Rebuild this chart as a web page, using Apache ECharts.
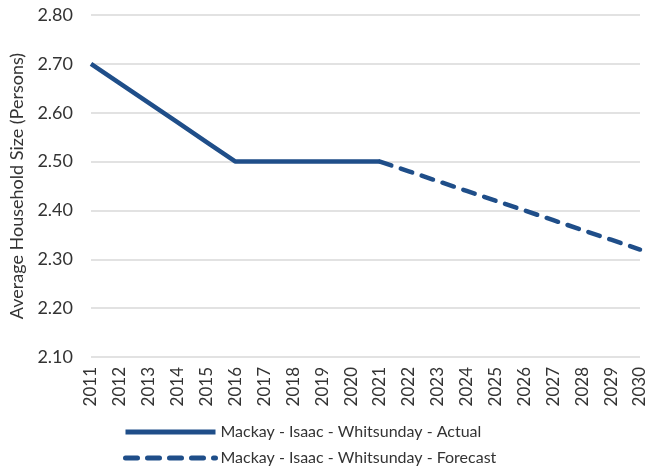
<!DOCTYPE html>
<html>
<head>
<meta charset="utf-8">
<script src="https://cdn.jsdelivr.net/npm/echarts@6/dist/echarts.min.js"></script>
<style>
  html, body { margin: 0; padding: 0; background: #fff; }
  #chart { width: 665px; height: 473px; }
</style>
</head>
<body>
<div id="chart"></div>
<script>
const years = ['2011', '2012', '2013', '2014', '2015', '2016', '2017', '2018', '2019', '2020',
  '2021', '2022', '2023', '2024', '2025', '2026', '2027', '2028', '2029', '2030']
const actual = [2.70, 2.66, 2.62, 2.58, 2.54, 2.50, 2.50, 2.50, 2.50, 2.50, 2.50,
  null, null, null, null, null, null, null, null, null]
const forecast = [null, null, null, null, null, null, null, null, null, null,
  2.50, 2.48, 2.46, 2.44, 2.42, 2.40, 2.38, 2.36, 2.34, 2.32]

const blue = '#1f4e89'
const font = 'Lato, "Liberation Sans", sans-serif'

const chart = echarts.init(document.getElementById('chart'))
chart.setOption({
  animation: false,
  textStyle: { fontFamily: font },
  grid: {
    left: 91,
    right: 25,
    top: 15,
    bottom: 116
  },
  legend: {
    orient: 'vertical',
    left: 123,
    top: 424,
    padding: 0,
    itemWidth: 90,
    itemHeight: 14,
    itemGap: 10,
    itemStyle: { opacity: 0 },
    lineStyle: { width: 5 },
    textStyle: { fontSize: 16, color: '#333', fontFamily: font },
    data: ['Mackay - Isaac - Whitsunday - Actual', 'Mackay - Isaac - Whitsunday - Forecast']
  },
  xAxis: {
    type: 'category',
    data: years,
    boundaryGap: false,
    axisLine: { show: false },
    axisTick: { show: false },
    axisLabel: {
      rotate: 90,
      margin: 10,
      fontSize: 17,
      color: '#333',
      interval: 0
    }
  },
  yAxis: {
    type: 'value',
    min: 2.1,
    max: 2.8,
    interval: 0.1,
    name: 'Average Household Size (Persons)',
    nameLocation: 'middle',
    nameGap: 60,
    nameTextStyle: { fontSize: 18, color: '#333' },
    axisLabel: {
      margin: 18,
      fontSize: 18,
      color: '#333',
      formatter: v => v.toFixed(2)
    },
    splitLine: { lineStyle: { color: '#d9d9d9', width: 1.5 } }
  },
  series: [
    {
      name: 'Mackay - Isaac - Whitsunday - Actual',
      type: 'line',
      data: actual,
      symbol: 'none',
      lineStyle: { color: blue, width: 4.5 },
      itemStyle: { color: blue }
    },
    {
      name: 'Mackay - Isaac - Whitsunday - Forecast',
      type: 'line',
      data: forecast,
      symbol: 'none',
      lineStyle: { color: blue, width: 4.5, type: [12, 10], cap: 'round' },
      itemStyle: { color: blue }
    }
  ]
})
</script>
</body>
</html>
